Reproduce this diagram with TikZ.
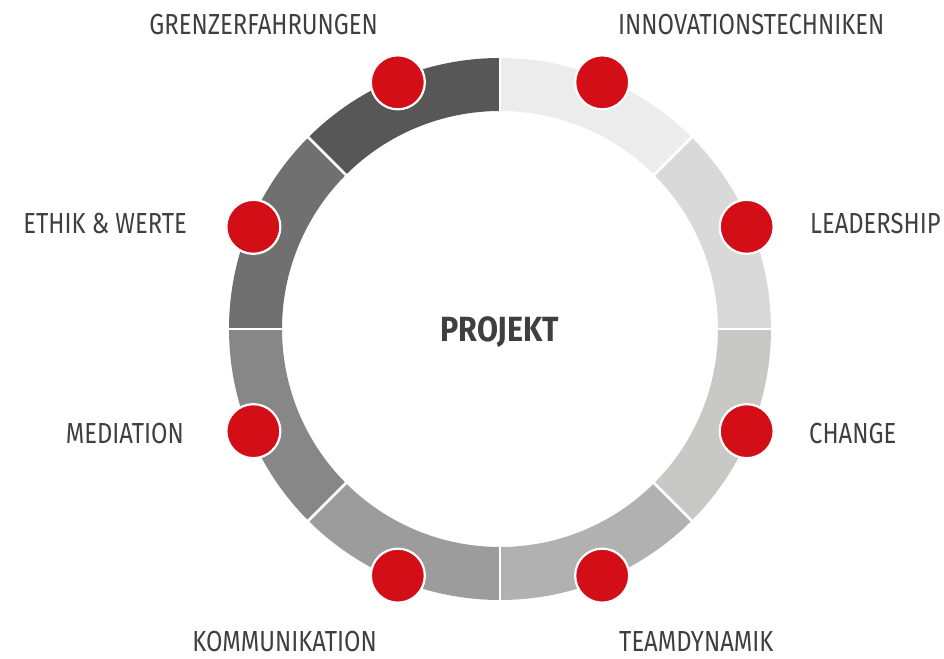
\documentclass[tikz,border=0pt]{standalone}
\usepackage{fontspec}
\setmainfont{Fira Sans}[FakeStretch=0.82]
\newfontfamily\titlefont{Fira Sans}[FakeStretch=0.87]
\begin{document}
\begin{tikzpicture}[x=1pt,y=1pt,
  ringlabel/.style={inner sep=0pt,font=\fontsize{29}{30}\selectfont,text=labelgray},
  marker/.style={circle,fill=dotred,draw=white,line width=2.2pt,minimum size=54pt,inner sep=0pt},
  divider/.style={draw=white,line width=2.6pt}]
\definecolor{labelgray}{HTML}{3F3F41}
\definecolor{dotred}{HTML}{D40E16}
\definecolor{segA}{HTML}{575757}
\definecolor{segB}{HTML}{707070}
\definecolor{segC}{HTML}{878787}
\definecolor{segD}{HTML}{9C9C9C}
\definecolor{segE}{HTML}{B1B1B1}
\definecolor{segF}{HTML}{C8C8C4}
\definecolor{segG}{HTML}{D9D9D9}
\definecolor{segH}{HTML}{ECECEC}
\useasboundingbox (0,0) rectangle (944,658);

\begin{scope}[shift={(500,329)}]
  % ring segments, each spanning 45 degrees
  \foreach \a/\c in {90/segA,135/segB,180/segC,225/segD,270/segE,315/segF,0/segG,45/segH}{
    \fill[\c] (\a:271) arc[start angle=\a,end angle=\a+45,radius=271]
      -- (\a+45:218) arc[start angle=\a+45,end angle=\a,radius=218] -- cycle;
  }
  % white gaps between segments
  \foreach \a in {0,45,...,315}{
    \draw[divider] (\a:216) -- (\a:273);
  }
  % red markers on the ring
  \node[marker] (m1) at (112.5:267) {};
  \node[marker] (m2) at (67.5:267) {};
  \node[marker] (m3) at (22.5:267) {};
  \node[marker] (m4) at (-22.5:267) {};
  \node[marker] (m5) at (-67.5:267) {};
  \node[marker] (m6) at (-112.5:267) {};
  \node[marker] (m7) at (-157.5:267) {};
  \node[marker] (m8) at (157.5:267) {};
\end{scope}

\node[inner sep=0pt,anchor=base,font=\titlefont\bfseries\fontsize{35}{36}\selectfont,text=labelgray] (center) at (500,316) {PROJEKT};

\node[ringlabel,anchor=base east] (l1) at (378,623) {GRENZERFAHRUNGEN};
\node[ringlabel,anchor=base west] (l2) at (618,623) {INNOVATIONSTECHNIKEN};
\node[ringlabel,anchor=base west] (l3) at (810,424) {LEADERSHIP};
\node[ringlabel,anchor=base west] (l4) at (809,214) {CHANGE};
\node[ringlabel,anchor=base west] (l5) at (619,7) {TEAMDYNAMIK};
\node[ringlabel,anchor=base east] (l6) at (377,7) {KOMMUNIKATION};
\node[ringlabel,anchor=base east] (l7) at (184,214) {MEDIATION};
\node[ringlabel,anchor=base east] (l8) at (187,424) {ETHIK \& WERTE};
\end{tikzpicture}
\end{document}
